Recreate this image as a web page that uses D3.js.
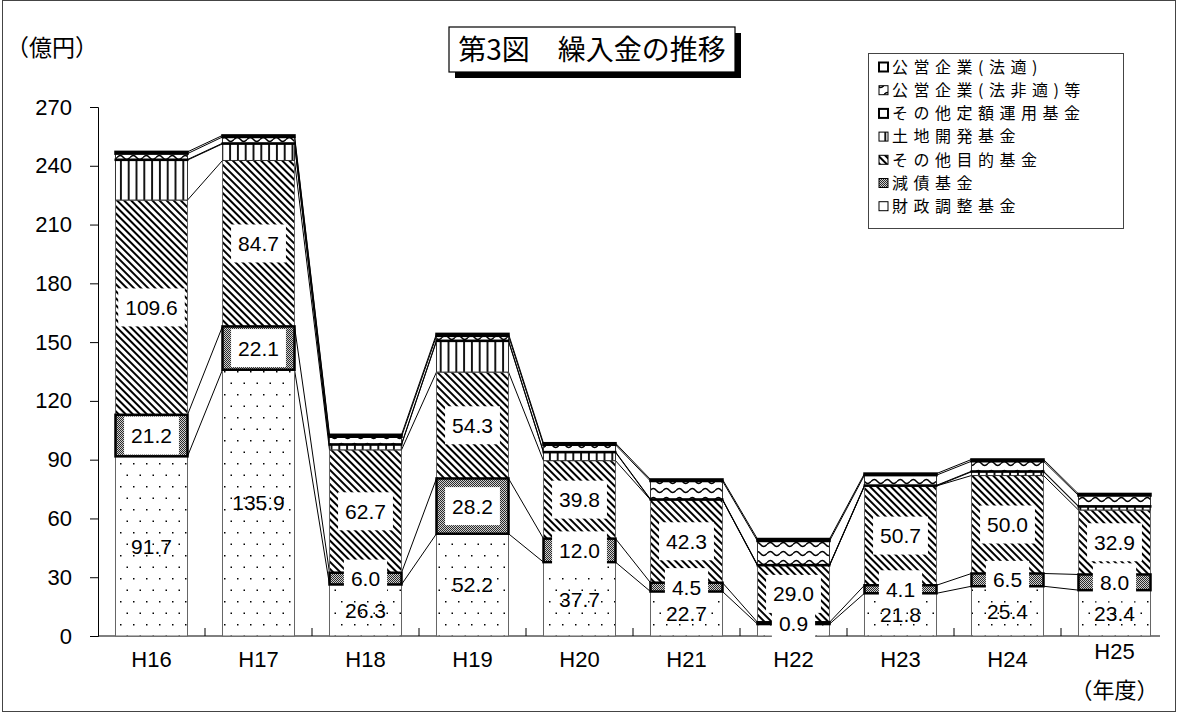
<!DOCTYPE html>
<html><head><meta charset="utf-8">
<script src="https://cdn.jsdelivr.net/npm/d3@7/dist/d3.min.js"></script>
<style>body{margin:0;background:#fff}svg{display:block}</style>
</head><body><svg id="chart" width="1178" height="713"></svg>
<script>
// ---- data ----
const categories = ["H16","H17","H18","H19","H20","H21","H22","H23","H24","H25"];
const zaiseiChousei = [91.7,135.9,26.3,52.2,37.7,22.7,6.1,21.8,25.4,23.4];
const gensai        = [21.2,22.1,6.0,28.2,12.0,4.5,0.9,4.1,6.5,8.0];
const sonotaMokuteki= [109.6,84.7,62.7,54.3,39.8,42.3,29.0,50.7,50.0,32.9];
const tochiKaihatsu = [20.4,8.5,2.6,15.8,4.2,0,0,0,1.9,1.7];
const sonotaTeigaku = [0.3,0.3,0.3,0.3,0.3,0.3,0.3,0.3,0.3,0.3];
const koueiHiteki   = [3.0,3.2,3.8,2.4,3.6,9.3,12.2,5.2,5.1,5.4];
const koueiHouteki  = [0.9,0.8,1.0,1.0,0.8,0.8,1.0,0.8,0.9,0.8];
const seriesNames = ["財政調整基金","減債基金","その他目的基金","土地開発基金","その他定額運用基金","公営企業(法非適)等","公営企業(法適)"];
const zaiseiLabels   = ["91.7","135.9","26.3","52.2","37.7","22.7","","21.8","25.4","23.4"];
const gensaiLabels   = ["21.2","22.1","6.0","28.2","12.0","4.5","0.9","4.1","6.5","8.0"];
const mokutekiLabels = ["109.6","84.7","62.7","54.3","39.8","42.3","29.0","50.7","50.0","32.9"];
const yTicks = [0,30,60,90,120,150,180,210,240,270];
const titleText = "第3図　繰入金の推移";
const yUnit = "（億円）";
const xUnit = "（年度）";

const seriesValues = [zaiseiChousei,gensai,sonotaMokuteki,tochiKaihatsu,sonotaTeigaku,koueiHiteki,koueiHouteki];
const table = categories.map((c,i)=>{const o={cat:c}; seriesNames.forEach((n,s)=>o[n]=seriesValues[s][i]); return o;});
const stacked = d3.stack().keys(seriesNames)(table);

const svg = d3.select("#chart");
const FONT = "'Liberation Sans','Noto Sans CJK JP',sans-serif";
const JFONT = "'Noto Sans CJK JP','Liberation Sans',sans-serif";

// ---- patterns ----
const defs = svg.append("defs");
function pat(id,w,h){return defs.append("pattern").attr("id",id).attr("patternUnits","userSpaceOnUse").attr("width",w).attr("height",h);}
let p = pat("dots",13,23);
p.append("rect").attr("width",13).attr("height",23).attr("fill","#fff");
p.append("rect").attr("x",3).attr("y",3).attr("width",1.5).attr("height",1.5).attr("fill","#000");
p.append("rect").attr("x",9.5).attr("y",14.5).attr("width",1.5).attr("height",1.5).attr("fill","#000");
p = pat("checker",2,2);
p.append("rect").attr("width",2).attr("height",2).attr("fill","#cfcfcf");
p.append("rect").attr("width",1).attr("height",1).attr("fill","#2a2a2a");
p.append("rect").attr("x",1).attr("y",1).attr("width",1).attr("height",1).attr("fill","#2a2a2a");
p = pat("diag",5,5).attr("patternTransform","rotate(-45)");
p.append("rect").attr("width",5).attr("height",5).attr("fill","#fff");
p.append("rect").attr("width",2).attr("height",5).attr("fill","#000");
p = pat("vert",7.8,10);
p.append("rect").attr("width",7.8).attr("height",10).attr("fill","#fff");
p.append("rect").attr("x",3).attr("width",1.8).attr("height",10).attr("fill","#000");
p = pat("wave",13,9);
p.append("rect").attr("width",13).attr("height",9).attr("fill","#fff");
p.append("path").attr("d","M0,4.5 Q3.25,0.5 6.5,4.5 T13,4.5").attr("fill","none").attr("stroke","#000").attr("stroke-width",1.4);

const styles = [
  {fill:"url(#dots)",stroke:"#666",sw:1,thick:false},
  {fill:"url(#checker)",stroke:"#000",sw:2.5,thick:true},
  {fill:"url(#diag)",stroke:"#666",sw:1,thick:false},
  {fill:"url(#vert)",stroke:"#333",sw:1,thick:false},
  {fill:"#fff",stroke:"#000",sw:2,thick:true},
  {fill:"url(#wave)",stroke:"#333",sw:1,thick:false},
  {fill:"#fff",stroke:"#000",sw:2.5,thick:true}
];

// ---- scales ----
const x = d3.scaleBand().domain(categories).range([98,1168]).paddingInner(0.327).paddingOuter(0.1635);
const y = d3.scaleLinear().domain([0,270]).range([636,107]);
const bw = x.bandwidth();

// outer frame
svg.append("rect").attr("x",2.5).attr("y",0.5).attr("width",1173).attr("height",711).attr("fill","none").attr("stroke","#444").attr("stroke-width",1);

// ---- axes ----
const yAxis = svg.append("g").attr("transform","translate(98,0)")
  .call(d3.axisLeft(y).tickValues(yTicks).tickSize(8).tickPadding(18));
yAxis.select(".domain").attr("stroke","#000");
yAxis.selectAll(".tick line").attr("stroke","#000");
yAxis.selectAll(".tick text").attr("font-family",FONT).attr("font-size",22).attr("fill","#000");

const xAxis = svg.append("g").attr("transform","translate(0,636)")
  .call(d3.axisBottom(x).tickSize(0).tickSizeOuter(0).tickPadding(15));
xAxis.select(".domain").attr("stroke","#000").attr("d","M98,0H1160");
xAxis.selectAll(".tick text").attr("font-family",FONT).attr("font-size",22).attr("fill","#000")
  .attr("dy",(d)=> d==="H25" ? "0.35em" : "0.71em");
// category boundary ticks
svg.append("g").selectAll("line").data(categories.slice(1)).join("line")
  .attr("x1",d=>x(d)-x.step()*x.paddingInner()/2).attr("x2",d=>x(d)-x.step()*x.paddingInner()/2)
  .attr("y1",636).attr("y2",628).attr("stroke","#000");

// ---- series connector lines ----
const conn = svg.append("g");
stacked.forEach(layer=>{
  for(let i=0;i<categories.length-1;i++){
    conn.append("line")
      .attr("x1",x(categories[i])+bw).attr("y1",y(layer[i][1]))
      .attr("x2",x(categories[i+1])).attr("y2",y(layer[i+1][1]))
      .attr("stroke","#000").attr("stroke-width",1);
  }
});

// ---- bars ----
const order = [0,2,3,5,1,4,6];
order.forEach(s=>{
  const layer = stacked[s]; const st = styles[s];
  svg.append("g").selectAll("rect").data(layer.filter(d=>d[1]-d[0]>0)).join("rect")
    .attr("x",d=>x(d.data.cat)).attr("width",bw)
    .attr("y",d=>y(d[1])).attr("height",d=>Math.max(0.01,y(d[0])-y(d[1])))
    .attr("fill",st.fill).attr("stroke",st.stroke).attr("stroke-width",st.sw);
});

// ---- data labels ----
const lab = svg.append("g");
function addLabels(layerIdx, texts, boxed){
  const layer = stacked[layerIdx];
  layer.forEach((d,i)=>{
    if(!texts[i]) return;
    const cx = x(d.data.cat)+bw/2, cy = y((d[0]+d[1])/2);
    const t = lab.append("text").attr("x",cx).attr("y",cy).attr("dy","0.36em")
      .attr("text-anchor","middle").attr("font-family",FONT).attr("font-size",21).attr("fill","#000").text(texts[i]);
    if(boxed){
      const w = t.node().getComputedTextLength()+14;
      lab.insert("rect",()=>t.node()).attr("x",cx-w/2).attr("y",cy-19).attr("width",w).attr("height",38).attr("fill","#fff");
    }
  });
}
addLabels(0,zaiseiLabels,false);
addLabels(1,gensaiLabels,true);
addLabels(2,mokutekiLabels,true);

// ---- texts ----
svg.append("text").attr("x",6).attr("y",48).attr("dy","0.36em").attr("font-family",JFONT).attr("font-size",23).text(yUnit);
svg.append("text").attr("x",x("H25")+bw/2).attr("y",690).attr("dy","0.36em").attr("text-anchor","middle").attr("font-family",JFONT).attr("font-size",22).text(xUnit);

// title
svg.append("rect").attr("x",455).attr("y",33).attr("width",286).attr("height",45).attr("fill","#000");
svg.append("rect").attr("x",449).attr("y",27).attr("width",286).attr("height",45).attr("fill","#fff").attr("stroke","#000").attr("stroke-width",1.2);
svg.append("text").attr("x",592).attr("y",50).attr("dy","0.36em").attr("text-anchor","middle").attr("font-family",JFONT).attr("font-size",28).text(titleText);

// legend
const lg = svg.append("g");
lg.append("rect").attr("x",868.5).attr("y",53.5).attr("width",255).attr("height",175).attr("fill","#fff").attr("stroke","#444");
const legOrder = [6,5,4,3,2,1,0];
legOrder.forEach((s,k)=>{
  const cy = 67 + k*23.2;
  const st = styles[s];
  lg.append("rect").attr("x",879).attr("y",cy-4.5).attr("width",9).attr("height",9)
    .attr("fill",st.fill).attr("stroke","#000").attr("stroke-width", st.thick && s!==1 ? 2 : 1);
  lg.append("text").attr("x",892).attr("y",cy).attr("dy","0.36em").attr("font-family",JFONT).attr("font-size",16)
    .attr("letter-spacing","5.5px").text(seriesNames[s]);
});
</script></body></html>
